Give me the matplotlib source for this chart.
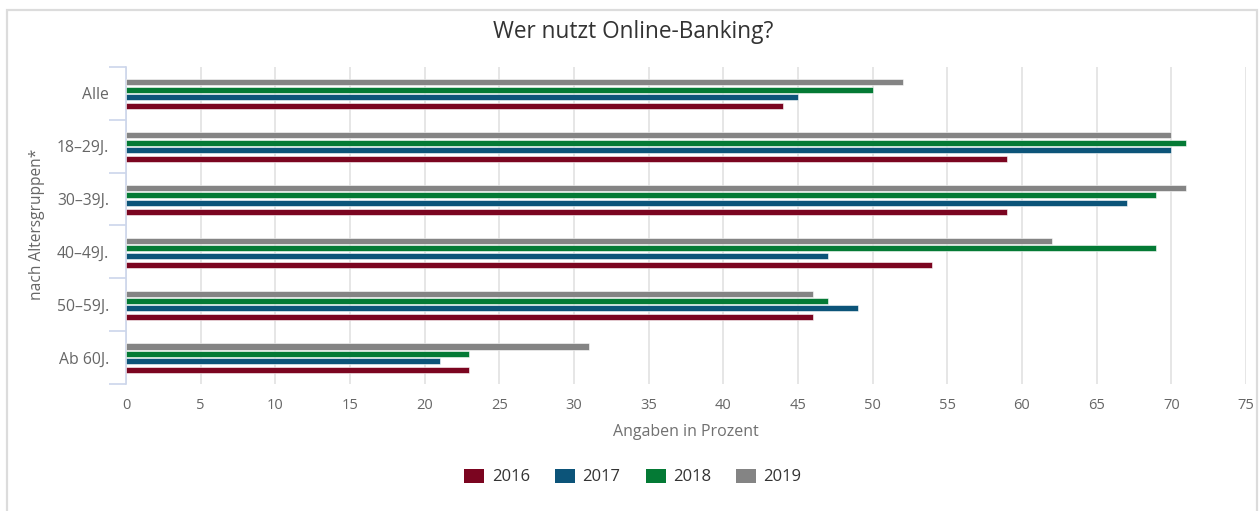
import numpy as np
import matplotlib.pyplot as plt
from matplotlib.patches import Rectangle, Patch
#--------------------------------------
categories = ['Alle', '18–29J.', '30–39J.', '40–49J.', '50–59J.', 'Ab 60J.']
years      = ['2016', '2017', '2018', '2019']
v2016      = [44, 59, 59, 54, 46, 23]
v2017      = [45, 70, 67, 47, 49, 21]
v2018      = [50, 71, 69, 69, 47, 23]
v2019      = [52, 70, 71, 62, 46, 31]
colors     = ['#7b0520', '#0c5479', '#047a35', '#848484']
#--------------------------------------
plt.rcParams['font.family'] = ['Open Sans', 'DejaVu Sans']
fig = plt.figure(figsize=(12.6, 5.11), dpi=100)
fig.patches.append(Rectangle((7/1260, -0.1), 1250/1260, 1 - 10/511 + 0.1,
                             transform=fig.transFigure, fill=False,
                             edgecolor='#dcdcdc', linewidth=1.6))
ax = fig.add_axes([126/1260, 1 - 384/511, 1120/1260, 317/511])

y      = np.arange(len(categories))
offset = [0.24, 0.07, -0.07, -0.21]   # 2016 .. 2019, axis inverted
series = [v2016, v2017, v2018, v2019]
for s, off, c in zip(series, offset, colors):
    ax.barh(y + off, s, height=0.115, color=c, edgecolor='white', linewidth=0.4, zorder=3)

ax.set_xlim(0, 75)
ax.set_ylim(len(categories) - 0.5, -0.5)
ax.set_xticks(np.arange(0, 76, 5))
ax.set_yticks(y)
ax.set_yticklabels(categories)
ax.set_yticks(np.arange(-0.5, len(categories)), minor=True)
ax.tick_params(axis='y', which='major', length=0, pad=12, labelsize=11.3, labelcolor='#666666')
ax.tick_params(axis='y', which='minor', length=12, color='#ccd6eb', width=1.2)
ax.tick_params(axis='x', length=0, pad=10, labelsize=10.5, labelcolor='#666666')
ax.grid(axis='x', color='#e2e2e2', linewidth=1.2, zorder=0)
for sp in ['top', 'right', 'bottom']:
    ax.spines[sp].set_visible(False)
ax.spines['left'].set_color('#ccd6eb')
ax.spines['left'].set_linewidth(1.2)

ax.set_xlabel('Angaben in Prozent', fontsize=11.5, color='#707070', labelpad=8)
fig.text(37/1260, 1 - 224/511, 'nach Altersgruppen*', rotation=90, ha='center', va='center',
         fontsize=11.2, color='#666666')
fig.text(633/1260, 1 - 32/511, 'Wer nutzt Online-Banking?', ha='center', va='center',
         fontsize=16.3, color='#333333')

handles = [Patch(facecolor=c, edgecolor='none') for c in colors]
fig.legend(handles, years, loc='center', bbox_to_anchor=(633/1260, 1 - 477/511), ncol=4,
           frameon=False, fontsize=12, handlelength=1.2, handleheight=0.9,
           handletextpad=0.45, columnspacing=1.5, labelcolor='#333333')

fig.savefig('out.png', dpi=100)
